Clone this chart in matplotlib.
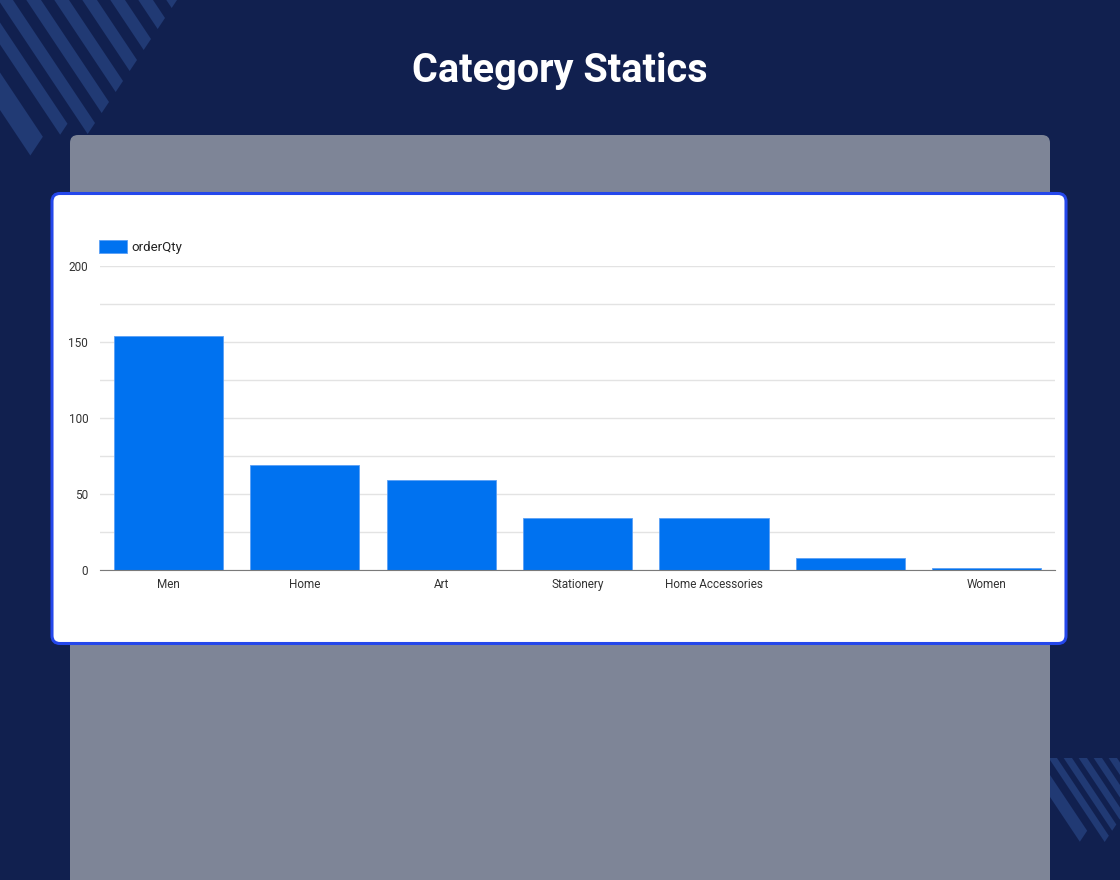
import numpy as np
import matplotlib
matplotlib.use("Agg")
import matplotlib.pyplot as plt
from matplotlib.patches import Polygon, FancyBboxPatch

plt.rcParams['font.family'] = ['Roboto', 'DejaVu Sans']

# chart data
categories = ["Men", "Home", "Art", "Stationery", "Home Accessories", "", "Women"]
order_qty = [154, 69, 59, 34, 34, 8, 1]
series_name = "orderQty"
y_ticks = [0, 50, 100, 150, 200]

# colours
BG = "#11204f"
STRIPE = "#213a74"
PANEL = "#7e8597"
CARD_EDGE = "#2447eb"
BAR = "#0072f0"

W, H = 1120, 880


def band(b_lo, b_hi, k_cut, ytop):
    # stripe between lines y = 1.5x - b, cut by x + y/1.5 = k_cut
    def cut(b):
        x = (1.5 * k_cut + b) / 3
        return (x, 1.5 * k_cut - 1.5 * x)
    return [((ytop + b_lo) / 1.5, ytop), ((ytop + b_hi) / 1.5, ytop), cut(b_hi), cut(b_lo)]


fig = plt.figure(figsize=(W / 100, H / 100), dpi=100, facecolor=BG)

# background layer in pixel coords
bg = fig.add_axes([0, 0, 1, 1], zorder=0)
bg.set_xlim(0, W)
bg.set_ylim(H, 0)
bg.axis("off")

# top-left stripes
for k in range(0, 8):
    lo = -2.5 + 42 * k
    bg.add_patch(Polygon(band(lo, lo + 22, 177, -60), closed=True, fc=STRIPE, ec="none"))
bg.add_patch(Polygon(band(-44.5, -22.5, 150, -60), closed=True, fc=STRIPE, ec="none"))
bg.add_patch(Polygon(band(-110, -72.5, 134, -60), closed=True, fc=STRIPE, ec="none"))

# bottom-right stripes
for k in range(0, 7):
    lo = 815 + 22.5 * k
    bg.add_patch(Polygon(band(lo, lo + 12.5, 1666, 758), closed=True, fc=STRIPE, ec="none"))
bg.add_patch(Polygon(band(778, 800, 1641, 758), closed=True, fc=STRIPE, ec="none"))

# grey panel and white card
bg.add_patch(FancyBboxPatch((70, 135), 980, 800, boxstyle="round,pad=0,rounding_size=8",
                            fc=PANEL, ec="none"))
bg.add_patch(FancyBboxPatch((52, 193.5), 1014, 450, boxstyle="round,pad=0,rounding_size=8",
                            fc="white", ec=CARD_EDGE, lw=2.2))

fig.text(0.5, 1 - 81.5 / H, "Category Statics", ha="center", va="baseline",
         fontsize=28.5, fontweight="bold", color="white")

# bar chart
ax = fig.add_axes([100 / W, (H - 570) / H, 955 / W, 304 / H], zorder=1)
ax.patch.set_alpha(0)
x = np.arange(len(categories))
ax.bar(x, order_qty, width=0.8, color=BAR, edgecolor="#5a9ff5", linewidth=0.6,
       label=series_name, zorder=3)
ax.set_xlim(-0.5, len(categories) - 0.5)
ax.set_ylim(0, 200)
ax.set_xticks(x)
ax.set_xticklabels(categories)
ax.set_yticks(y_ticks)
ax.set_yticks(np.arange(0, 201, 25), minor=True)
ax.grid(axis="y", which="both", color="#e3e3e3", lw=1, zorder=0)
for s in ["top", "left", "right"]:
    ax.spines[s].set_visible(False)
ax.spines["bottom"].set_color("#7a7a7a")
ax.spines["bottom"].set_zorder(4)
ax.tick_params(axis="both", which="both", length=0, labelsize=8.5, colors="#333333")
ax.tick_params(axis="y", pad=8.5)
ax.tick_params(axis="x", pad=6)

ax.legend(loc="lower left", bbox_to_anchor=(99 / W, 1 - 254 / H), bbox_transform=fig.transFigure,
          frameon=False, borderpad=0, borderaxespad=0, handlelength=2.1, handleheight=1.05,
          handletextpad=0.35, fontsize=9.5, labelcolor="#222222")

fig.savefig("out.png", dpi=100, facecolor=BG)
